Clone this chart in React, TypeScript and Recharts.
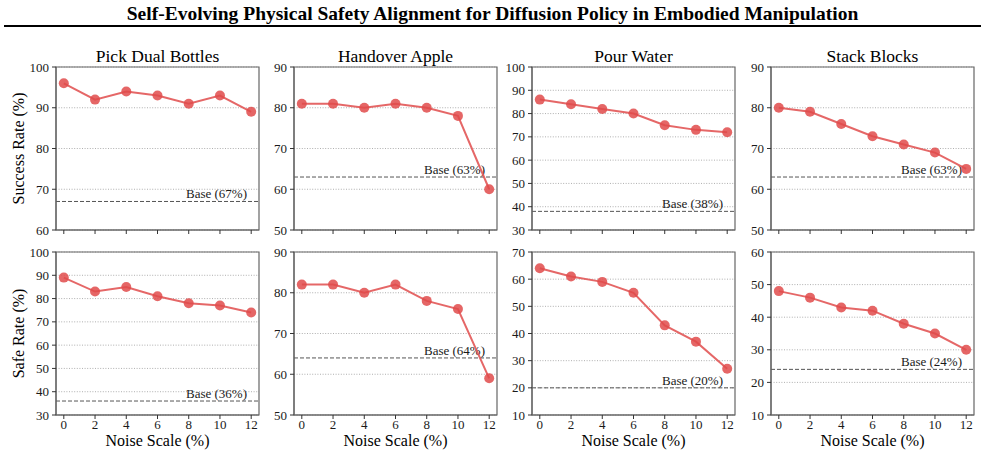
import React from 'react';
import {
  LineChart,
  Line,
  XAxis,
  YAxis,
  CartesianGrid,
  ReferenceLine,
  ReferenceArea,
} from 'recharts';

// Noise scale (%) along the x axis
const noiseScales = [0, 2, 4, 6, 8, 10, 12];

// Task names (column titles)
const tasks = ['Pick Dual Bottles', 'Handover Apple', 'Pour Water', 'Stack Blocks'];

// Success rate (%) per task
const successPick = [96, 92, 94, 93, 91, 93, 89];
const successHandover = [81, 81, 80, 81, 80, 78, 60];
const successPour = [86, 84, 82, 80, 75, 73, 72];
const successStack = [80, 79, 76, 73, 71, 69, 65];
const successBase = [67, 63, 38, 63];

// Safe rate (%) per task
const safePick = [89, 83, 85, 81, 78, 77, 74];
const safeHandover = [82, 82, 80, 82, 78, 76, 59];
const safePour = [64, 61, 59, 55, 43, 37, 27];
const safeStack = [48, 46, 43, 42, 38, 35, 30];
const safeBase = [36, 64, 20, 24];

// Y tick values per panel
const successTicks = [
  [60, 70, 80, 90, 100],
  [50, 60, 70, 80, 90],
  [30, 40, 50, 60, 70, 80, 90, 100],
  [50, 60, 70, 80, 90],
];
const safeTicks = [
  [30, 40, 50, 60, 70, 80, 90, 100],
  [50, 60, 70, 80, 90],
  [10, 20, 30, 40, 50, 60, 70],
  [10, 20, 30, 40, 50, 60],
];

const FONT = '"Liberation Serif", "Times New Roman", Times, serif';
const RED = '#e25757';

// Layout of the plotting areas
const COL_X = [56, 294, 532, 771];
const ROW_Y = [67, 252];
const PLOT_W = 203;
const PLOT_H = 163;
const Y_AXIS_W = 44;
const X_AXIS_H = 30;
const MARGIN_TOP = 8;
const MARGIN_RIGHT = 8;

type PanelProps = {
  values: number[];
  base: number;
  yTicks: number[];
  left: number;
  top: number;
  showXLabels: boolean;
};

function Panel({ values, base, yTicks, left, top, showXLabels }: PanelProps) {
  const data = noiseScales.map((x, i) => ({ x, v: values[i] }));
  const yMin = yTicks[0];
  const yMax = yTicks[yTicks.length - 1];
  const tickStyle = { fill: '#1a1a1a', fontSize: 13, fontFamily: FONT };
  return (
    <div style={{ position: 'absolute', left: left - Y_AXIS_W, top: top - MARGIN_TOP }}>
      <LineChart
        width={Y_AXIS_W + PLOT_W + MARGIN_RIGHT}
        height={MARGIN_TOP + PLOT_H + X_AXIS_H}
        data={data}
        margin={{ top: MARGIN_TOP, right: MARGIN_RIGHT, bottom: 0, left: 0 }}
      >
        <CartesianGrid
          vertical={false}
          stroke="#9a9a9a"
          strokeWidth={0.8}
          strokeDasharray="1 1.6"
        />
        <XAxis
          type="number"
          dataKey="x"
          domain={[-0.5, 12.5]}
          ticks={noiseScales}
          interval={0}
          height={X_AXIS_H}
          tickSize={4}
          tickMargin={1}
          axisLine={{ stroke: '#666', strokeWidth: 1.2 }}
          tickLine={{ stroke: '#333' }}
          tick={tickStyle}
          tickFormatter={showXLabels ? (v: number) => String(v) : () => ''}
        />
        <YAxis
          type="number"
          domain={[yMin, yMax]}
          ticks={yTicks}
          interval={0}
          width={Y_AXIS_W}
          tickSize={4}
          tickMargin={3}
          axisLine={{ stroke: '#666', strokeWidth: 1.2 }}
          tickLine={{ stroke: '#333' }}
          tick={tickStyle}
        />
        <ReferenceArea
          x1={-0.5}
          x2={12.5}
          y1={yMin}
          y2={yMax}
          fill="none"
          stroke="#666"
          strokeWidth={1.2}
        />
        <ReferenceLine
          y={base}
          stroke="#555"
          strokeWidth={1}
          strokeDasharray="4 2"
          label={(p: any) => {
            const vb = p.viewBox || {};
            return (
              <text
                x={(vb.x ?? 0) + (vb.width ?? 0) - 12}
                y={(vb.y ?? 0) - 3}
                textAnchor="end"
                fontSize={13}
                fontFamily={FONT}
                fill="#1a1a1a"
              >
                {`Base (${base}%)`}
              </text>
            );
          }}
        />
        <Line
          type="linear"
          dataKey="v"
          stroke={RED}
          strokeWidth={2}
          strokeOpacity={0.9}
          dot={{ r: 5, fill: '#e04b4b', fillOpacity: 0.85, stroke: 'none' }}
          activeDot={false}
          isAnimationActive={false}
        />
      </LineChart>
    </div>
  );
}

export default function App() {
  const successSeries = [successPick, successHandover, successPour, successStack];
  const safeSeries = [safePick, safeHandover, safePour, safeStack];
  const colCenters = COL_X.map((x) => x + PLOT_W / 2);
  return (
    <div
      style={{
        position: 'absolute',
        left: 0,
        top: 0,
        width: 985,
        height: 458,
        background: '#fff',
        overflow: 'hidden',
      }}
    >
      {successSeries.map((vals, i) => (
        <Panel
          key={`s${i}`}
          values={vals}
          base={successBase[i]}
          yTicks={successTicks[i]}
          left={COL_X[i]}
          top={ROW_Y[0]}
          showXLabels={false}
        />
      ))}
      {safeSeries.map((vals, i) => (
        <Panel
          key={`f${i}`}
          values={vals}
          base={safeBase[i]}
          yTicks={safeTicks[i]}
          left={COL_X[i]}
          top={ROW_Y[1]}
          showXLabels={true}
        />
      ))}
      <svg
        width={985}
        height={458}
        style={{ position: 'absolute', left: 0, top: 0, pointerEvents: 'none' }}
      >
        <text
          x={492.5}
          y={20}
          textAnchor="middle"
          fontFamily={FONT}
          fontWeight="bold"
          fontSize={19.5}
          fill="#000"
        >
          Self-Evolving Physical Safety Alignment for Diffusion Policy in Embodied Manipulation
        </text>
        <line x1={4} x2={981} y1={26} y2={26} stroke="#000" strokeWidth={2} />
        {tasks.map((t, i) => (
          <text
            key={t}
            x={colCenters[i]}
            y={62}
            textAnchor="middle"
            fontFamily={FONT}
            fontSize={17.5}
            fill="#000"
          >
            {t}
          </text>
        ))}
        {colCenters.map((cx, i) => (
          <text
            key={`xl${i}`}
            x={cx}
            y={446}
            textAnchor="middle"
            fontFamily={FONT}
            fontSize={16}
            fill="#000"
          >
            Noise Scale (%)
          </text>
        ))}
        <text
          transform={`translate(24, ${ROW_Y[0] + PLOT_H / 2}) rotate(-90)`}
          textAnchor="middle"
          fontFamily={FONT}
          fontSize={16}
          fill="#000"
        >
          Success Rate (%)
        </text>
        <text
          transform={`translate(24, ${ROW_Y[1] + PLOT_H / 2}) rotate(-90)`}
          textAnchor="middle"
          fontFamily={FONT}
          fontSize={16}
          fill="#000"
        >
          Safe Rate (%)
        </text>
      </svg>
    </div>
  );
}
